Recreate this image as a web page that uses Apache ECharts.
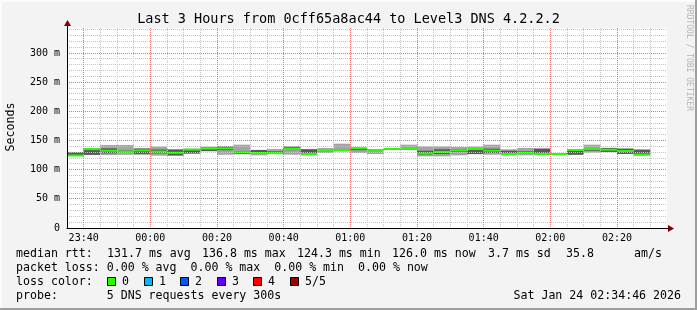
<!DOCTYPE html>
<html><head><meta charset="utf-8">
<script src="https://cdn.jsdelivr.net/npm/echarts@6/dist/echarts.min.js"></script>
<style>html,body{margin:0;padding:0;background:#f3f3f3;}#c{width:697px;height:310px;}</style>
</head><body><div id="c"></div>
<script>
// ---- data (5-minute steps, values in ms) ----
const stepTimes = ['23:35','23:40','23:45','23:50','23:55','00:00','00:05','00:10','00:15','00:20',
  '00:25','00:30','00:35','00:40','00:45','00:50','00:55','01:00','01:05','01:10',
  '01:15','01:20','01:25','01:30','01:35','01:40','01:45','01:50','01:55','02:00',
  '02:05','02:10','02:15','02:20','02:25'];
const minRtt = [124.0,125.1,125.1,125.5,125.5,124.0,124.0,127.0,131.5,125.7,
  126.5,124.6,127.0,125.7,124.5,128.6,131.0,128.6,126.9,134.0,
  134.0,122.9,122.9,124.6,126.5,125.7,124.6,124.6,125.7,125.5,
  125.5,129.2,130.3,126.9,124.6];
const p2Rtt = [124.5,125.5,128.0,129.5,127.0,128.0,124.5,128.0,132.0,133.5,
  127.0,127.0,127.5,133.5,125.5,131.0,132.5,133.5,132.0,134.5,
  134.5,125.5,127.0,131.0,126.9,128.6,125.5,126.9,126.0,126.0,
  125.7,132.5,130.5,127.0,124.8];
const medRtt = [124.3,135.2,132.5,131.0,133.0,131.0,129.0,134.5,136.3,136.6,
  129.7,128.6,128.3,135.4,126.9,132.3,133.7,136.8,133.7,135.7,
  135.7,127.7,130.6,133.4,135.4,132.6,126.9,128.6,126.9,126.9,
  133.7,135.4,134.3,132.0,126.0];
const p4Rtt = [129.5,136.2,136.6,133.0,136.0,134.5,134.5,135.5,137.5,139.5,
  131.0,133.7,131.4,138.3,135.0,133.5,135.0,137.5,134.5,136.5,
  137.2,132.5,135.0,135.0,136.0,136.0,132.6,131.4,136.0,127.5,
  134.5,136.5,137.2,136.0,134.3];
const maxRtt = [130.5,136.6,142.3,142.3,137.0,139.5,135.0,136.0,139.5,140.5,
  142.9,134.0,135.4,140.6,135.5,137.2,144.6,138.0,135.0,137.0,
  142.9,140.0,140.0,138.9,139.5,142.9,134.9,137.2,136.5,128.5,
  135.0,142.9,137.5,136.3,134.6];
const xMajorTicks = ['23:40','00:00','00:20','00:40','01:00','01:20','01:40','02:00','02:20'];
const yMajorTicks = [0,50,100,150,200,250,300];
const lossLabels = ['0','1','2','3','4','5/5'];
const lossColors = ['#26ff00','#00b8ff','#0059ff','#5e00ff','#ff0000','#a00000'];
const titleText = 'Last 3 Hours from 0cff65a8ac44 to Level3 DNS 4.2.2.2';
const rttChunks = ['median rtt:','131.7 ms avg','136.8 ms max','124.3 ms min','126.0 ms now','3.7 ms sd','35.8','am/s'];
const legendRows = [
  null,
  'packet loss: 0.00 % avg  0.00 % max  0.00 % min  0.00 % now',
  'loss color:',
  'probe:       5 DNS requests every 300s'
];
const dateText = 'Sat Jan 24 02:34:46 2026';
const xStart = '23:35', xEnd = '02:35';
const yMax = 343;
const xMinorStep = 5, yMinorStep = 10;

// ---- helpers ----
const MONO = '"DejaVu Sans Mono", monospace';
const STEP = 5;
function toMin(s){const p=s.split(':').map(Number);let v=p[0]*60+p[1];if(p[0]>=12)v-=1440;return v;}
function fmtMin(v){const t=((v%1440)+1440)%1440;const h=Math.floor(t/60),m=t%60;return String(h).padStart(2,'0')+':'+String(m).padStart(2,'0');}
const data = stepTimes.map((t,i)=>[toMin(t),minRtt[i],p2Rtt[i],medRtt[i],p4Rtt[i],maxRtt[i]]);
const xMajorVals = xMajorTicks.map(toMin);
const x0 = toMin(xStart), x1 = toMin(xEnd);

const xMinorLines = [], yMinorLines = [];
for (let v = x0 + xMinorStep; v < x1; v += xMinorStep) if (xMajorVals.indexOf(v) < 0) xMinorLines.push(v);
for (let v = yMinorStep; v < yMax; v += yMinorStep) if (yMajorTicks.indexOf(v) < 0) yMinorLines.push(v);
const yMajorLines = yMajorTicks.filter(v=>v>0);

const chart = echarts.init(document.getElementById('c'));
const G = {left:67, top:28, width:600, height:200};

const graphics = [];
graphics.push({type:'rect',shape:{x:0,y:0,width:697,height:2},style:{fill:'#fcfcfc'},silent:true});
graphics.push({type:'rect',shape:{x:0,y:0,width:2,height:310},style:{fill:'#fcfcfc'},silent:true});
graphics.push({type:'rect',shape:{x:0,y:308,width:697,height:2},style:{fill:'#9e9e9e'},silent:true});
graphics.push({type:'rect',shape:{x:695,y:0,width:2,height:310},style:{fill:'#9e9e9e'},silent:true});
graphics.push({type:'line',shape:{x1:67.5,y1:28,x2:67.5,y2:24},style:{stroke:'#000',lineWidth:1},z:10});
graphics.push({type:'polygon',shape:{points:[[67.5,20],[64,26],[71,26]]},style:{fill:'#7f0000'},z:10});
graphics.push({type:'line',shape:{x1:667,y1:228.5,x2:670,y2:228.5},style:{stroke:'#000',lineWidth:1},z:10});
graphics.push({type:'polygon',shape:{points:[[674,228.5],[668,225],[668,232]]},style:{fill:'#7f0000'},z:10});
graphics.push({type:'text',x:11,y:127,rotation:Math.PI/2,style:{text:'Seconds',fontFamily:MONO,fontSize:11.6,fill:'#000',align:'center',verticalAlign:'middle'}});
graphics.push({type:'text',x:689,y:5,rotation:-Math.PI/2,style:{text:'RRDTOOL / TOBI OETIKER',fontFamily:MONO,fontSize:8,fill:'#b4b4b4',align:'left',verticalAlign:'middle'}});
graphics.push({type:'text',x:348.5,y:19,style:{text:titleText,fontFamily:MONO,fontSize:13.5,fill:'#000',align:'center',verticalAlign:'middle'}});
const rowY = [254,268,282,296];
const rttX = [16,107,202,297,392,488,566,634];
rttChunks.forEach((t,i)=>{
  graphics.push({type:'text',x:rttX[i],y:rowY[0],style:{text:t,fontFamily:MONO,fontSize:11.6,fill:'#000',align:'left',verticalAlign:'middle'}});
});
legendRows.forEach((t,i)=>{
  if (!t) return;
  graphics.push({type:'text',x:16,y:rowY[i],style:{text:t,fontFamily:MONO,fontSize:11.6,fill:'#000',align:'left',verticalAlign:'middle'}});
});
lossLabels.forEach((l,i)=>{
  const bx = Math.round(107 + i*36.6);
  graphics.push({type:'rect',shape:{x:bx+0.5,y:277.5,width:8,height:8},style:{fill:lossColors[i],stroke:'#000',lineWidth:1}});
  graphics.push({type:'text',x:bx+15,y:282,style:{text:l,fontFamily:MONO,fontSize:11.6,fill:'#000',align:'left',verticalAlign:'middle'}});
});
graphics.push({type:'text',x:681,y:296,style:{text:dateText,fontFamily:MONO,fontSize:11.6,fill:'#000',align:'right',verticalAlign:'middle'}});

const minorGrid = '#c4c4c4', majorGrid = '#ec7070';

function gridSeries(vals, vertical, color, z){
  return {
    type:'custom', z:z, silent:true, clip:false,
    encode: vertical ? {x:0} : {y:0},
    data: vals.map(v=>[v]),
    renderItem:function(params, api){
      const v = api.value(0);
      const lo = api.coord([x0, 0]), hi = api.coord([x1, yMax]);
      let shape;
      if (vertical) {
        const x = Math.floor(api.coord([v, 0])[0]) + 0.5;
        shape = {x1:x, y1:hi[1], x2:x, y2:lo[1]};
      } else {
        const y = Math.floor(api.coord([x0, v])[1]) + 0.5;
        shape = {x1:lo[0], y1:y, x2:hi[0], y2:y};
      }
      return {type:'line', shape:shape, style:{stroke:color, lineWidth:1, lineDash:[1,1]}};
    }
  };
}

chart.setOption({
  animation:false,
  backgroundColor:'#f3f3f3',
  grid:{left:G.left, top:G.top, width:G.width, height:G.height, show:true, backgroundColor:'#ffffff', borderWidth:0, z:0},
  xAxis:{
    type:'value', min:x0, max:x1, interval:5, z:8,
    axisLine:{show:true, onZero:false, lineStyle:{color:'#000', width:1}},
    axisTick:{show:false},
    axisLabel:{fontFamily:MONO, fontSize:10, color:'#000', margin:5, showMaxLabel:false,
      formatter:v=>(xMajorVals.indexOf(v)>=0 ? fmtMin(v) : '')},
    splitLine:{show:false}
  },
  yAxis:{
    type:'value', min:0, max:yMax, interval:10, z:8,
    axisLine:{show:true, onZero:false, lineStyle:{color:'#000', width:1}},
    axisTick:{show:false},
    axisLabel:{fontFamily:MONO, fontSize:10, color:'#000', margin:7, showMaxLabel:false,
      formatter:v=>(yMajorTicks.indexOf(v)>=0 ? (v===0?'0':v+' m') : '')},
    splitLine:{show:false}
  },
  series:[{
    type:'custom', z:3, silent:true,
    encode:{x:0, y:[1,2,3,4,5]},
    data:data,
    renderItem:function(params, api){
      const t = api.value(0);
      const a = api.coord([t, api.value(5)]);
      const b = api.coord([t+STEP, api.value(1)]);
      const q4 = api.coord([t, api.value(4)]);
      const q2 = api.coord([t, api.value(2)]);
      const md = api.coord([t, api.value(3)]);
      const w = b[0]-a[0];
      return {type:'group', children:[
        {type:'rect', shape:{x:a[0], y:a[1], width:w, height:b[1]-a[1]}, style:{fill:'#a4a4a4'}},
        {type:'rect', shape:{x:a[0], y:q4[1], width:w, height:q2[1]-q4[1]}, style:{fill:'#585858'}},
        {type:'rect', shape:{x:a[0], y:md[1]-1, width:w, height:2}, style:{fill:lossColors[0]}}
      ]};
    }
  },
  gridSeries(xMinorLines, true, minorGrid, 4),
  gridSeries(yMinorLines, false, minorGrid, 4),
  gridSeries(xMajorVals, true, majorGrid, 5),
  gridSeries(yMajorLines, false, majorGrid, 5)
  ],
  graphic:{elements:graphics}
});
</script></body></html>
